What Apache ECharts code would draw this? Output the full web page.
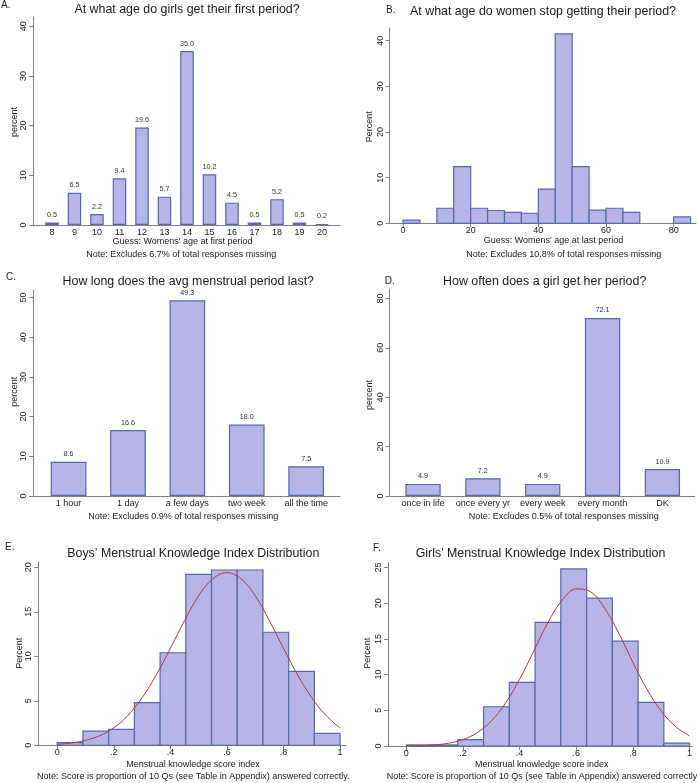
<!DOCTYPE html>
<html><head><meta charset="utf-8">
<script src="https://cdn.jsdelivr.net/npm/echarts@6/dist/echarts.min.js"></script>
<style>html,body{margin:0;padding:0;background:#fff}#c{width:697px;height:783px}</style>
</head><body><div id="c"></div><script>
// ---------- DATA ----------
// A. age at first period (categories = ages)
const ageFirstCats = [8, 9, 10, 11, 12, 13, 14, 15, 16, 17, 18, 19, 20];
const ageFirstPct = [0.5, 6.5, 2.2, 9.4, 19.6, 5.7, 35.0, 10.2, 4.5, 0.5, 5.2, 0.5, 0.2];
const ageFirstYTicks = [0, 10, 20, 30, 40];
// B. age at last period (histogram, bin starts, width 5)
const ageLastBins = [0, 5, 10, 15, 20, 25, 30, 35, 40, 45, 50, 55, 60, 65, 70, 75, 80];
const ageLastPct = [0.7, 0, 3.3, 12.4, 3.3, 2.8, 2.4, 2.2, 7.5, 41.5, 12.4, 2.9, 3.3, 2.4, 0, 0, 1.4];
const ageLastXTicks = [0, 20, 40, 60, 80];
const ageLastYTicks = [0, 10, 20, 30, 40];
// C. duration
const durationCats = ['1 hour', '1 day', 'a few days', 'two week', 'all the time'];
const durationPct = [8.6, 16.6, 49.3, 18.0, 7.5];
const durationYTicks = [0, 10, 20, 30, 40, 50];
// D. frequency
const freqCats = ['once in life', 'once every yr', 'every week', 'every month', 'DK'];
const freqPct = [4.9, 7.2, 4.9, 72.1, 10.9];
const freqYTicks = [0, 20, 40, 60, 80];
// E/F. knowledge index histograms (11 bins over 0..1)
const knowledgeBinCount = 11;
const boysPct = [0.3, 1.6, 1.8, 4.8, 10.4, 19.2, 19.7, 19.7, 12.7, 8.3, 1.35];
const girlsPct = [0.15, 0.15, 0.9, 5.5, 8.9, 17.3, 24.8, 20.7, 14.7, 6.1, 0.4];
const knowledgeXTicks = [0, 0.2, 0.4, 0.6, 0.8, 1];
const boysYTicks = [0, 5, 10, 15, 20];
const girlsYTicks = [0, 5, 10, 15, 20, 25];
// normal-density overlays
const curveX = [0, 0.05, 0.1, 0.15, 0.2, 0.25, 0.3, 0.35, 0.4, 0.45, 0.5, 0.55, 0.6, 0.65, 0.7, 0.75, 0.8, 0.85, 0.9, 0.95, 1];
const boysCurve = [0.11, 0.26, 0.55, 1.07, 1.96, 3.36, 5.35, 7.9, 10.9, 14.0, 16.8, 18.7, 19.4, 18.7, 16.8, 14.0, 10.9, 7.9, 5.35, 3.36, 1.96];
const girlsCurve = [0.02, 0.06, 0.16, 0.4, 0.9, 1.86, 3.49, 5.99, 9.37, 13.3, 17.3, 20.4, 22.0, 21.6, 19.3, 15.8, 11.7, 7.91, 4.88, 2.74, 1.4];

// ---------- STYLE ----------
const FONT = '"Liberation Sans", Arial, Helvetica, sans-serif';
const FILL = '#b7b5e8', EDGE = '#5668a5', AXIS = '#808080', TXT = '#1a1a1a', CURVE = '#b03a3a';

const grids = [
  {left: 33.3, top: 17, width: 306.7, height: 208},
  {left: 389.7, top: 28, width: 306.3, height: 195.3},
  {left: 33.3, top: 290, width: 306.7, height: 206},
  {left: 389.7, top: 289.3, width: 305, height: 206.7},
  {left: 38.3, top: 561.7, width: 308, height: 183.6},
  {left: 388, top: 562.7, width: 304, height: 183.3}
].map(g => Object.assign({containLabel: false, outerBoundsMode: 'none'}, g));

function xAx(gi, min, max, labels, showTicks, fmt) {
  return {
    gridIndex: gi, type: 'value', min: min, max: max,
    axisLine: {show: true, onZero: false, lineStyle: {color: AXIS, width: 1}},
    axisTick: {show: showTicks, length: 4, customValues: labels, lineStyle: {color: AXIS}},
    axisLabel: {customValues: labels, fontSize: 9, color: TXT, fontFamily: FONT, margin: 3, formatter: fmt},
    splitLine: {show: false}
  };
}
function yAx(gi, max, labels) {
  return {
    gridIndex: gi, type: 'value', min: 0, max: max,
    axisLine: {show: true, onZero: false, lineStyle: {color: AXIS, width: 1}},
    axisTick: {show: true, length: 4, customValues: labels, lineStyle: {color: AXIS}},
    axisLabel: {customValues: labels, rotate: 90, fontSize: 9, color: TXT, fontFamily: FONT, margin: 5},
    splitLine: {show: false}
  };
}
const knowFmt = v => (v === 0 ? '0' : v === 1 ? '1' : String(v).replace(/^0\./, '.'));

const xAxes = [
  xAx(0, 7.17, 20.8, ageFirstCats, false),
  xAx(1, -3.93, 86.6, ageLastXTicks, true),
  xAx(2, -0.594, 4.57, durationCats.map((c, i) => i), false, v => durationCats[v]),
  xAx(3, -0.557, 4.54, freqCats.map((c, i) => i), false, v => freqCats[v]),
  xAx(4, -0.067, 1.022, knowledgeXTicks, true, knowFmt),
  xAx(5, -0.0646, 1.0085, knowledgeXTicks, true, knowFmt)
];
const yAxes = [
  yAx(0, 41.85, ageFirstYTicks),
  yAx(1, 42.78, ageLastYTicks),
  yAx(2, 51.9, durationYTicks),
  yAx(3, 83.7, freqYTicks),
  yAx(4, 20.63, boysYTicks),
  yAx(5, 25.67, girlsYTicks)
];

const barStyle = {color: FILL, borderColor: EDGE, borderWidth: 1.2};
const valLabel = {show: true, position: 'top', distance: 4, fontSize: 7.2, color: '#333', fontFamily: FONT,
  formatter: p => p.value[1].toFixed(1)};

function histRender(binW) {
  return function (params, api) {
    const x0 = api.value(0), v = api.value(1);
    if (!v) return null;
    const p0 = api.coord([x0, 0]);
    const p1 = api.coord([x0 + binW, v]);
    return {type: 'rect', shape: {x: p0[0], y: p1[1], width: p1[0] - p0[0], height: p0[1] - p1[1]},
      style: {fill: FILL, stroke: EDGE, lineWidth: 1.2}};
  };
}
const kW = 1 / knowledgeBinCount;

const series = [
  {type: 'bar', xAxisIndex: 0, yAxisIndex: 0, barWidth: 13.5, itemStyle: barStyle, label: valLabel,
    data: ageFirstCats.map((c, i) => [c, ageFirstPct[i]])},
  {type: 'custom', xAxisIndex: 1, yAxisIndex: 1, renderItem: histRender(5), clip: false,
    data: ageLastBins.map((b, i) => [b, ageLastPct[i]])},
  {type: 'bar', xAxisIndex: 2, yAxisIndex: 2, barWidth: 35.7, itemStyle: barStyle, label: valLabel,
    data: durationPct.map((v, i) => [i, v])},
  {type: 'bar', xAxisIndex: 3, yAxisIndex: 3, barWidth: 35.3, itemStyle: barStyle, label: valLabel,
    data: freqPct.map((v, i) => [i, v])},
  {type: 'custom', xAxisIndex: 4, yAxisIndex: 4, renderItem: histRender(kW), clip: false,
    data: boysPct.map((v, i) => [i * kW, v])},
  {type: 'line', xAxisIndex: 4, yAxisIndex: 4, smooth: 0.4, showSymbol: false, z: 5,
    lineStyle: {color: CURVE, width: 1}, data: curveX.map((x, i) => [x, boysCurve[i]])},
  {type: 'custom', xAxisIndex: 5, yAxisIndex: 5, renderItem: histRender(kW), clip: false,
    data: girlsPct.map((v, i) => [i * kW, v])},
  {type: 'line', xAxisIndex: 5, yAxisIndex: 5, smooth: 0.4, showSymbol: false, z: 5,
    lineStyle: {color: CURVE, width: 1}, data: curveX.map((x, i) => [x, girlsCurve[i]])}
];

// ---------- TEXT ----------
const texts = [
  ['A.', 1, 5.5, 10, 'left'],
  ['At what age do girls get their first period?', 187, 9.5, 12.4],
  ['percent', 15, 122, 9, 'center', true],
  ["Guess: Womens' age at first period", 182.5, 242, 9],
  ['Note: Excludes 6.7% of total responses missing', 181.3, 255, 9],
  ['B.', 386, 10, 10, 'left'],
  ['At what age do women stop getting their period?', 543, 11.7, 12.4],
  ['Percent', 369.7, 126.7, 9, 'center', true],
  ["Guess: Womens' age at last period", 553.5, 240.7, 9],
  ['Note: Excludes 10.8% of total responses missing', 563.8, 255, 9],
  ['C.', 6, 277.5, 10, 'left'],
  ['How long does the avg menstrual period last?', 188.3, 281.7, 12.4],
  ['percent', 15, 391.7, 9, 'center', true],
  ['Note: Excludes 0.9% of total responses missing', 183.3, 516.7, 9],
  ['D.', 384.7, 281.5, 10, 'left'],
  ['How often does a girl get her period?', 544.7, 281.7, 12.4],
  ['percent', 369.7, 395, 9, 'center', true],
  ['Note: Excludes 0.5% of total responses missing', 563.8, 516.7, 9],
  ['E.', 5, 547.5, 10, 'left'],
  ['Boys\u2019 Menstrual Knowledge Index Distribution', 193.3, 553.3, 12.4],
  ['Percent', 20, 653.3, 9, 'center', true],
  ['Menstrual knowledge score index', 193, 764.3, 9],
  ['Note: Score is proportion of 10 Qs (see Table in Appendix) answered correctly.', 193.3, 776.7, 9],
  ['F.', 373, 548, 10, 'left'],
  ["Girls' Menstrual Knowledge Index Distribution", 540.5, 553.3, 12.4],
  ['Percent', 368, 653.3, 9, 'center', true],
  ['Menstrual knowledge score index', 541.8, 764.3, 9],
  ['Note: Score is proportion of 10 Qs (see Table in Appendix) answered correctly', 542, 776.7, 9]
];
const graphic = texts.map(t => ({
  type: 'text', x: t[1], y: t[2], rotation: t[5] ? Math.PI / 2 : 0, z: 100,
  style: {text: t[0], fontSize: t[3], fontFamily: FONT, fill: TXT, align: t[4] || 'center', verticalAlign: 'middle'}
}));

const chart = echarts.init(document.getElementById('c'), null, {renderer: 'canvas'});
chart.setOption({
  backgroundColor: '#fff',
  animation: false,
  grid: grids,
  xAxis: xAxes,
  yAxis: yAxes,
  series: series,
  graphic: graphic
});
</script></body></html>
